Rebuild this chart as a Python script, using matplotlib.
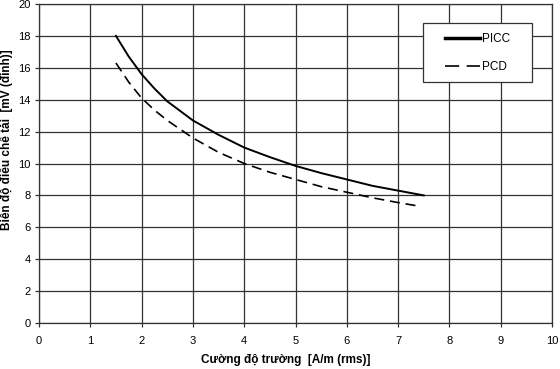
import matplotlib
matplotlib.use("Agg")
import matplotlib.pyplot as plt
from matplotlib.patches import Rectangle

plt.rcParams['font.family'] = ['Liberation Sans', 'DejaVu Sans']

picc_x = [1.5, 1.75, 2, 2.25, 2.5, 3, 3.5, 4, 4.5, 5, 5.5, 6, 6.5, 7, 7.5]
picc_y = [18.0, 16.7, 15.6, 14.7, 13.9, 12.7, 11.8, 11.0, 10.4, 9.85, 9.4, 9.0, 8.6, 8.3, 8.0]
pcd_x = [1.5, 1.75, 2, 2.25, 2.5, 3, 3.5, 4, 4.5, 5, 5.5, 6, 6.5, 7, 7.4]
pcd_y = [16.3, 15.1, 14.1, 13.35, 12.7, 11.6, 10.7, 10.0, 9.45, 9.0, 8.55, 8.2, 7.85, 7.55, 7.33]

x_ticks = list(range(0, 11))
y_ticks = list(range(0, 21, 2))

W, H = 560, 369
fig = plt.figure(figsize=(5.6, 3.69), dpi=100)
ax = fig.add_axes([39/W, 1-323/H, (552-39)/W, (323-4)/H])

ax.plot(picc_x, picc_y, color='black', lw=1.4, label='PICC')
ax.plot(pcd_x, pcd_y, color='black', lw=1.2, dashes=(6, 3.5), label='PCD')

ax.set_xlim(0, 10)
ax.set_ylim(0, 20)
ax.set_xticks(x_ticks)
ax.set_yticks(y_ticks)
ax.grid(True, color='#333333', lw=0.9)
for s in ax.spines.values():
    s.set_color('#333333')
    s.set_linewidth(0.9)
ax.tick_params(axis='both', labelsize=8, color='#333333', length=3, width=0.9)
ax.tick_params(axis='x', pad=6)
ax.tick_params(axis='y', pad=3)

ax.set_xlabel('Cường độ trường  [A/m (rms)]', fontsize=8.5, fontweight='bold', labelpad=6)
ax.set_ylabel('Biên độ điều chế tải  [mV (đỉnh)]', fontsize=8.5, fontweight='bold', labelpad=4)
ax.xaxis.label.set_x((286 - 39) / (552 - 39))
ax.yaxis.label.set_y((323 - 140) / (323 - 4))

# legend frame
box = Rectangle((423/W, 1-82/H), (532-423)/W, (82-23)/H, transform=fig.transFigure,
                facecolor='white', edgecolor='#333333', lw=0.9, zorder=5, clip_on=False)
ax.add_patch(box)

leg = ax.legend(loc='upper left', bbox_to_anchor=(445/W, 1-33/H), bbox_transform=fig.transFigure,
                fontsize=8.5, frameon=False,
                handlelength=3.0, borderpad=0.0, labelspacing=1.35, handletextpad=0.15,
                borderaxespad=0.0)
leg.set_zorder(6)
leg.get_lines()[0].set_linewidth(2.5)
leg.get_lines()[1].set_dashes((8.5, 4.5))

fig.savefig('out.png', dpi=100)
